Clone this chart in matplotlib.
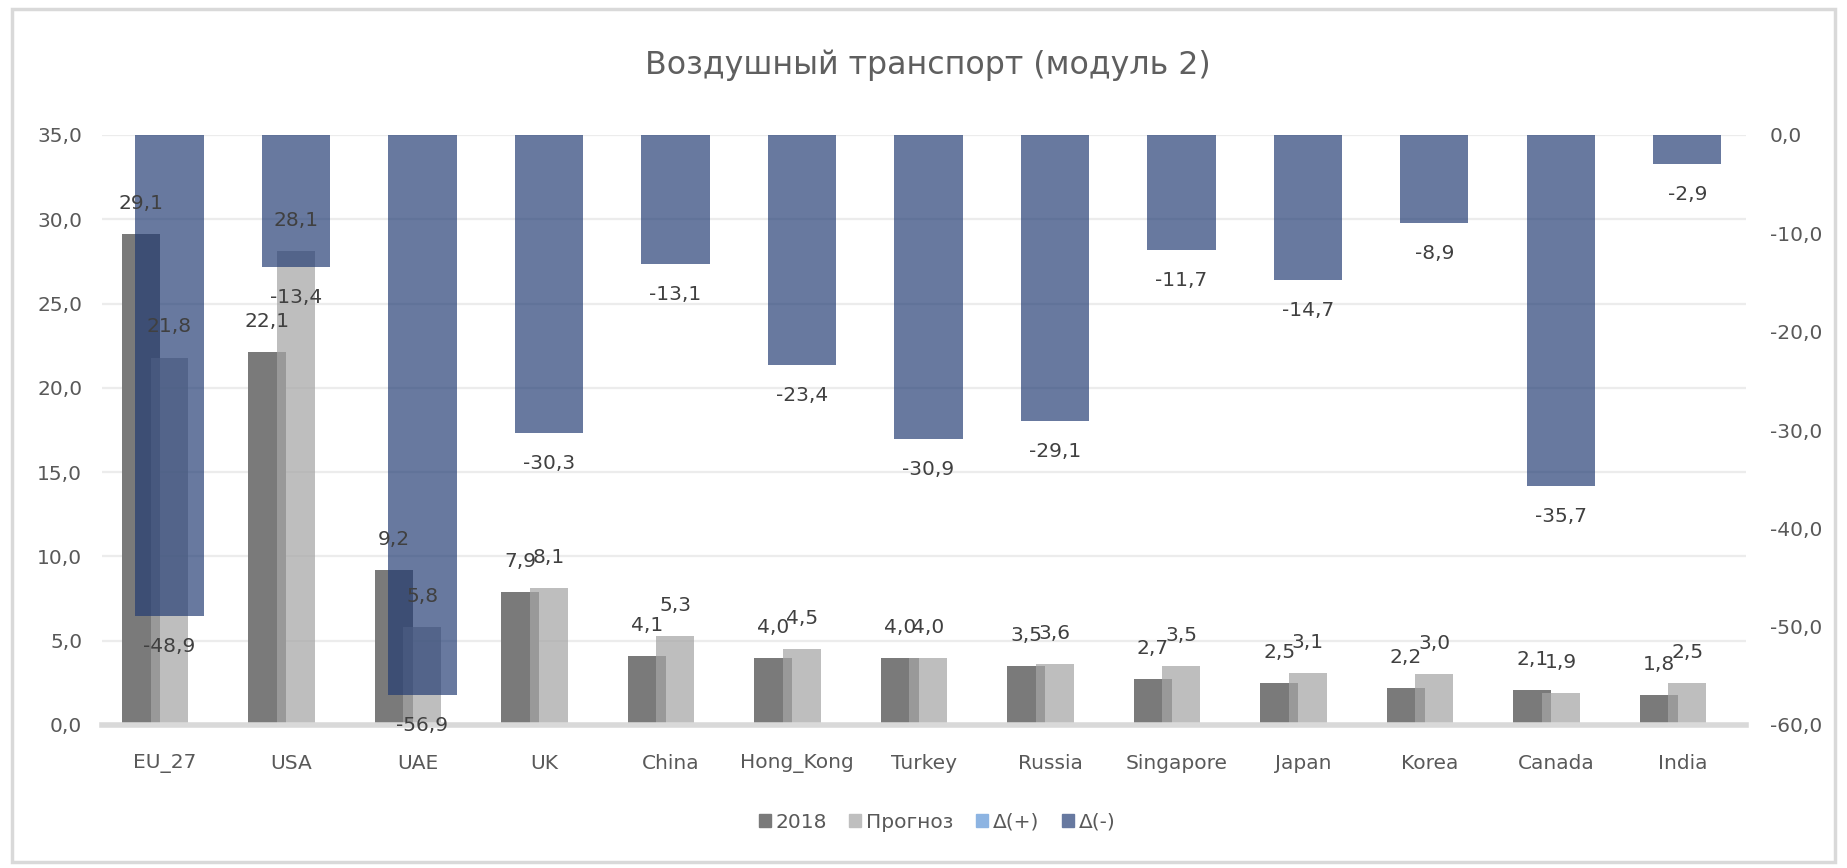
import matplotlib
matplotlib.use("Agg")
import matplotlib.pyplot as plt
import numpy as np
from matplotlib.patches import Rectangle

plt.rcParams['font.family'] = ['DejaVu Sans']

categories = ["EU_27", "USA", "UAE", "UK", "China", "Hong_Kong", "Turkey",
              "Russia", "Singapore", "Japan", "Korea", "Canada", "India"]
val_2018 = [29.1, 22.1, 9.2, 7.9, 4.1, 4.0, 4.0, 3.5, 2.7, 2.5, 2.2, 2.1, 1.8]
val_forecast = [21.8, 28.1, 5.8, 8.1, 5.3, 4.5, 4.0, 3.6, 3.5, 3.1, 3.0, 1.9, 2.5]
delta_plus = [0.0] * 13
delta_minus = [-48.9, -13.4, -56.9, -30.3, -13.1, -23.4, -30.9, -29.1, -11.7,
               -14.7, -8.9, -35.7, -2.9]
left_ticks = [0, 5, 10, 15, 20, 25, 30, 35]
right_ticks = [0, -10, -20, -30, -40, -50, -60]

TXT = '#595959'
LBL = '#404040'
C2018 = '#7a7a7a'
CFORE = '#a6a6a6'
CPLUS = '#8db4e2'
CMINUS = '#203a72'
FS = 14.5

def fmt(v):
    return f"{v:.1f}".replace('.', ',')

W, H = 1847, 868
fig = plt.figure(figsize=(W / 100, H / 100), dpi=100)
fig.patch.set_facecolor('white')

# outer frame
fig.add_artist(Rectangle((12 / W, 1 - 862 / H), (1835 - 12) / W, (862 - 9) / H,
                         transform=fig.transFigure, fill=False,
                         edgecolor='#d9d9d9', linewidth=2.5))

ax = fig.add_axes([101.7 / W, 1 - 725 / H, (1746 - 101.7) / W, (725 - 135) / H])
ax2 = ax.twinx()

x = np.arange(len(categories))
bw = 0.30
off_2018 = -0.19
off_fore = 0.036
off_delta = 0.036
bw_delta = 0.54

ax.set_ylim(0, 35)
ax.set_xlim(-0.5, len(categories) - 0.5)
ax2.set_ylim(-60, 0)

for yv in left_ticks[1:]:
    ax.axhline(yv, color='#ececec', lw=1.6, zorder=0)

ax.bar(x + off_2018, val_2018, width=bw, color=C2018, zorder=2)
ax.bar(x + off_fore, val_forecast, width=bw, color=CFORE, alpha=0.72, zorder=3)
ax.axhline(0, color='#d9d9d9', lw=4, zorder=4, clip_on=False)

ax2.bar(x + off_delta, delta_plus, width=bw_delta, color=CPLUS, zorder=2)
ax2.bar(x + off_delta, delta_minus, width=bw_delta, color=CMINUS, alpha=0.68, zorder=2)

# labels (on top axes)
for i in range(len(categories)):
    ax2.annotate(fmt(val_2018[i]), xy=(x[i] + off_2018, val_2018[i]), xycoords=ax.transData,
                 xytext=(0, 22), textcoords='offset points', ha='center', va='center',
                 fontsize=FS, color=LBL, zorder=10)
    ax2.annotate(fmt(val_forecast[i]), xy=(x[i] + off_fore, val_forecast[i]), xycoords=ax.transData,
                 xytext=(0, 22), textcoords='offset points', ha='center', va='center',
                 fontsize=FS, color=LBL, zorder=10)
    ax2.annotate(fmt(delta_minus[i]), xy=(x[i] + off_delta, delta_minus[i]),
                 xytext=(0, -22), textcoords='offset points', ha='center', va='center',
                 fontsize=FS, color=LBL, zorder=10)

ax.set_xticks(x)
ax.set_xticklabels(categories)
ax.set_yticks(left_ticks)
ax.set_yticklabels([fmt(v) for v in left_ticks])
ax2.set_yticks(right_ticks)
ax2.set_yticklabels([fmt(v) for v in right_ticks])

for a in (ax, ax2):
    for s in a.spines.values():
        s.set_visible(False)
    a.tick_params(length=0, colors=TXT, labelsize=FS)
ax.tick_params(axis='x', pad=21)
ax.tick_params(axis='y', pad=14)
ax2.tick_params(axis='y', pad=17)

title = fig.text(0.5025, 1 - 65 / H, "Воздушный транспорт (модуль 2)", ha='center', va='center',
                 fontsize=22, color='#5f5f5f')
# fit title width to the reference width (~565 px)
fig.canvas.draw()
bb = title.get_window_extent()
title.set_fontsize(22 * 565 / bb.width)

handles = [Rectangle((0, 0), 1, 1, color=C2018),
           Rectangle((0, 0), 1, 1, color='#bfbfbf'),
           Rectangle((0, 0), 1, 1, color=CPLUS),
           Rectangle((0, 0), 1, 1, color='#6779a0')]
fig.legend(handles, ["2018", "Прогноз", "Δ(+)", "Δ(-)"], loc='center',
           bbox_to_anchor=(937 / W, 1 - 822 / H), ncol=4, frameon=False,
           fontsize=FS, labelcolor=TXT, handlelength=0.6, handleheight=0.6,
           handletextpad=0.25, columnspacing=1.1)

fig.savefig("out.png", dpi=100)
